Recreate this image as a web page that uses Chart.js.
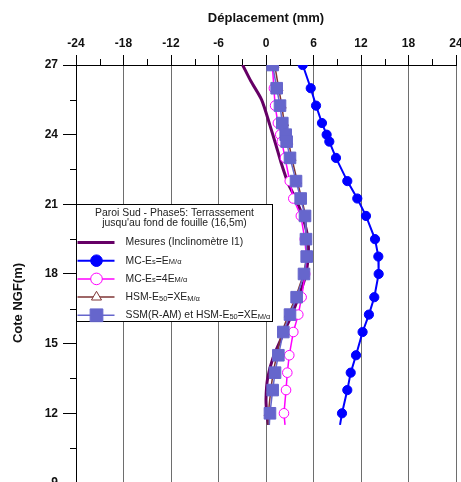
<!DOCTYPE html>
<html>
<head>
<meta charset="utf-8">
<script src="https://cdn.jsdelivr.net/npm/chart.js@4"></script>
<style>
  html, body { margin: 0; padding: 0; background: #fff; overflow: hidden; }
  canvas { display: block; }
</style>
</head>
<body>
<canvas id="chart" width="461" height="541"></canvas>
<script>
// Depth levels (Cote NGF, m) shared by the model curves
const cotes = [27, 26, 25.25, 24.5, 24, 23.7, 23, 22, 21.25, 20.5, 19.5, 18.75, 18, 17, 16.25, 15.5, 14.5, 13.75, 13, 12, 11.5];

// Displacements (mm)
const mcEs = [4.64, 5.65, 6.32, 7.07, 7.66, 8.0, 8.84, 10.27, 11.53, 12.63, 13.77, 14.19, 14.23, 13.68, 13.0, 12.2, 11.37, 10.7, 10.27, 9.6, 9.35];
const mcEs4 = [0.8, 1.0, 1.15, 1.5, 1.8, 2.0, 2.4, 3.0, 3.45, 4.4, 4.9, 5.1, 4.95, 4.5, 4.08, 3.45, 2.94, 2.69, 2.53, 2.27, 2.4];
const hsm = [1.1, 1.6, 2.0, 2.3, 2.7, 2.85, 3.25, 3.95, 4.5, 5.0, 5.15, 5.15, 4.75, 3.75, 2.85, 2.0, 1.35, 0.9, 0.6, 0.3, 0.3];
const ssm = [0.84, 1.35, 1.77, 2.06, 2.49, 2.61, 3.03, 3.79, 4.38, 4.93, 5.05, 5.14, 4.8, 3.87, 3.03, 2.19, 1.56, 1.14, 0.84, 0.5, 0.42];

// Inclinometer measurement (own depth levels)
const mesCotes = [27, 26.3, 25.5, 24.4, 23.5, 22.8, 21.9, 21.2, 20.4, 19.5, 18.6, 17.8, 17.0, 16.2, 15.2, 14.4, 13.5, 12.6, 12.0, 11.5];
const mesures = [-2.95, -1.9, -0.55, 0.5, 1.3, 1.9, 2.8, 3.8, 4.7, 5.3, 5.3, 4.9, 4.1, 3.2, 1.9, 0.9, 0.2, 0.0, 0.1, 0.3];

// Axis ticks
const xTicks = [-24, -18, -12, -6, 0, 6, 12, 18, 24];
const yTicks = [27, 24, 21, 18, 15, 12, 9];

const legendTitle = ['Paroi Sud - Phase5: Terrassement', "jusqu'au fond de fouille (16,5m)"];
// label runs: [text, subscript?]
const legendLabels = [
    [['Mesures (Inclinomètre I1)', false]],
    [['MC-E', false], ['s', true], ['=E', false], ['M/α', true]],
    [['MC-E', false], ['s', true], ['=4E', false], ['M/α', true]],
    [['HSM-E', false], ['50', true], ['=XE', false], ['M/α', true]],
    [['SSM(R-AM) et HSM-E', false], ['50', true], ['=XE', false], ['M/α', true]]
];

const FONT = '"Liberation Sans", Arial, sans-serif';

function pts(xs, ys) {
    return xs.map((x, i) => ({ x: x, y: ys[i] }));
}
// marker on every point but the last one (line end)
function radii(n, r) {
    return Array.from({ length: n }, (_, i) => (i === n - 1 ? 0 : r));
}

const datasets = [
    { label: 'Mesures', data: pts(mesures, mesCotes), borderColor: '#660066', backgroundColor: '#660066',
      borderWidth: 3, pointRadius: 0, tension: 0.25, order: 5 },
    { label: 'MC1', data: pts(mcEs, cotes), borderColor: '#0000ff', backgroundColor: '#0000ff',
      borderWidth: 2, pointStyle: 'circle', pointRadius: radii(cotes.length, 4.6), pointBorderWidth: 1, order: 4 },
    { label: 'MC4', data: pts(mcEs4, cotes), borderColor: '#ff00ff', backgroundColor: '#ffffff',
      borderWidth: 1.5, pointStyle: 'circle', pointRadius: radii(cotes.length, 4.8), pointBorderWidth: 1, order: 3 },
    { label: 'HSM', data: pts(hsm, cotes), borderColor: '#7f3535', backgroundColor: '#ffffff',
      borderWidth: 1.5, pointStyle: 'triangle', pointRadius: radii(cotes.length, 5), pointBorderWidth: 1, order: 2 },
    { label: 'SSM', data: pts(ssm, cotes), borderColor: '#6666cc', backgroundColor: '#6666cc',
      borderWidth: 1.5, pointStyle: 'rect', pointRadius: radii(cotes.length, 8.2), pointBorderWidth: 1, order: 1 }
];
datasets.forEach(d => { d.showLine = true; d.fill = false; });

// minor ticks and inner legend
const extras = {
    id: 'extras',
    afterDraw(chart) {
        const ctx = chart.ctx;
        const xs = chart.scales.x, ys = chart.scales.y;
        const area = chart.chartArea;
        ctx.save();
        ctx.strokeStyle = '#000';
        ctx.lineWidth = 1;
        ctx.beginPath();
        for (let v = -21; v <= 21; v += 6) {
            const px = Math.round(xs.getPixelForValue(v)) + 0.5;
            ctx.moveTo(px, area.top - 6);
            ctx.lineTo(px, area.top);
        }
        for (let v = 25.5; v >= 7.5; v -= 3) {
            const py = Math.round(ys.getPixelForValue(v)) + 0.5;
            ctx.moveTo(area.left - 6, py);
            ctx.lineTo(area.left, py);
        }
        ctx.stroke();

        // legend box
        const bx = area.left + 0.5;
        const by = Math.round(ys.getPixelForValue(21)) + 0.5;
        const bw = 196, bh = 117;
        ctx.fillStyle = '#fff';
        ctx.fillRect(bx, by, bw, bh);
        ctx.strokeStyle = '#000';
        ctx.strokeRect(bx, by, bw, bh);

        ctx.fillStyle = '#222';
        ctx.font = '10.4px ' + FONT;
        ctx.textAlign = 'center';
        ctx.textBaseline = 'middle';
        legendTitle.forEach((t, i) => ctx.fillText(t, bx + bw / 2, by + 9 + i * 10));

        chart.data.datasets.forEach((ds, i) => {
            const yy = by + 38 + i * 18.2;
            ctx.strokeStyle = ds.borderColor;
            ctx.lineWidth = ds.borderWidth;
            ctx.beginPath();
            ctx.moveTo(bx + 1, yy);
            ctx.lineTo(bx + 38, yy);
            ctx.stroke();
            if (ds.pointStyle) {
                ctx.fillStyle = ds.backgroundColor;
                ctx.strokeStyle = ds.borderColor;
                ctx.lineWidth = 1;
                const r = ds.pointStyle === 'rect' ? 9 : 5.8;
                Chart.helpers.drawPoint(ctx, { pointStyle: ds.pointStyle, radius: r, rotation: 0, borderWidth: 1 }, bx + 20, yy);
            }
            let tx = bx + 49;
            ctx.textAlign = 'left';
            ctx.fillStyle = '#222';
            legendLabels[i].forEach(([txt, sub]) => {
                ctx.font = (sub ? '7.5px ' : '10.4px ') + FONT;
                ctx.fillText(txt, tx, sub ? yy + 1.5 : yy);
                tx += ctx.measureText(txt).width;
            });
        });
        ctx.restore();
    }
};

new Chart(document.getElementById('chart'), {
    type: 'scatter',
    data: { datasets: datasets },
    options: {
        responsive: false,
        animation: false,
        devicePixelRatio: 1,
        layout: { autoPadding: false, padding: { left: 0, top: 0, right: 5, bottom: 0 } },
        plugins: { legend: { display: false }, tooltip: { enabled: false } },
        scales: {
            x: {
                type: 'linear',
                position: 'top',
                min: -24, max: 24,
                afterBuildTicks: s => { s.ticks = xTicks.map(v => ({ value: v })); },
                afterFit: s => { s.height = 65; s.paddingLeft = 0; s.paddingRight = 0; },
                ticks: { font: { family: FONT, size: 12, weight: 'bold' }, color: '#111', padding: 4, maxRotation: 0 },
                grid: { color: '#6e6e6e', lineWidth: 1, tickColor: '#000', tickLength: 10 },
                border: { display: true, color: '#000', width: 1 },
                title: { display: true, text: 'Déplacement (mm)', color: '#111',
                         font: { family: FONT, size: 13, weight: 'bold' }, padding: { top: 11, bottom: 0 } }
            },
            y: {
                type: 'linear',
                position: 'left',
                min: 6.5, max: 27,
                afterBuildTicks: s => { s.ticks = yTicks.map(v => ({ value: v })); },
                afterFit: s => { s.width = 76; s.paddingTop = 0; s.paddingBottom = 0; },
                ticks: { font: { family: FONT, size: 12, weight: 'bold' }, color: '#111', padding: 5 },
                grid: { drawOnChartArea: false, tickColor: '#000', tickLength: 13 },
                border: { display: true, color: '#000', width: 1 },
                title: { display: true, text: 'Cote NGF(m)', color: '#111',
                         font: { family: FONT, size: 13, weight: 'bold' }, padding: { top: 11, bottom: 0 } }
            }
        }
    },
    plugins: [extras]
});
</script>
</body>
</html>
